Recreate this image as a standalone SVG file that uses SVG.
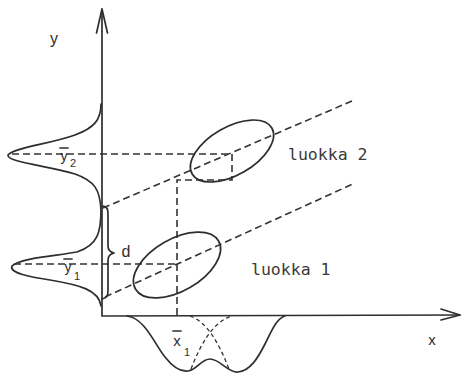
<svg xmlns="http://www.w3.org/2000/svg" width="462" height="378" viewBox="0 0 462 378">
<defs>
<style>
.ln{fill:none;stroke:#2e2e2e;stroke-width:1.7;stroke-linecap:round;stroke-linejoin:round}
.ds{fill:none;stroke:#333;stroke-width:1.6;stroke-dasharray:7 4}
.dsf{fill:none;stroke:#333;stroke-width:1.3;stroke-dasharray:4 3}
.lbl{font-family:"Liberation Sans","DejaVu Sans",sans-serif;fill:#2e2e2e}
.mono{font-family:"DejaVu Sans Mono","Liberation Mono",monospace;fill:#3a3a3a;font-size:16.5px}
</style>
</defs>
<rect width="462" height="378" fill="#fff"/>
<g id="axes">
<path class="ln" d="M102,9 L102,316 L460,315"/>
<path class="ln" d="M96.5,33 L102,9 L107.5,33"/>
<path class="ln" d="M441,309 L460,315 L441,320"/>
<text class="lbl" x="54" y="44" font-size="16" text-anchor="middle">y</text>
<text class="lbl" x="432" y="345" font-size="15" text-anchor="middle">x</text>
</g>
<g id="y-distribution">
<path class="ln" d="M101,104 C101,120 94,128 75,135 C50,144 12,148 8,155 C6,162 50,166 75,174 C95,181 100,190 101,210 C101,232 98,245 77,252 C55,256 20,258 12,266 C9,273 30,277 50,280 C80,285 99,290 101,306"/>
</g>
<g id="x-distribution">
<path class="ln" d="M127,316 C145,318 155,345 165,357 C172,366 180,372 188,371 C197,370 201,359 210,359 C220,359 228,373 238,372 C250,371 258,358 265,344 C272,330 277,318 285,316"/>
<path class="dsf" d="M191,369 C200,346 212,322 232,316"/>
<path class="dsf" d="M190,316 C208,322 220,346 229,369"/>
</g>
<g id="connectors">
<path class="ds" d="M103,208 L352,101"/>
<path class="ds" d="M105,297 L355,183"/>
<path class="ds" d="M12,154 L232,154 L232,180 L177,180 L177,316"/>
<path class="ds" d="M14,264 L177,264"/>
</g>
<g id="class2">
<ellipse class="ln" cx="232" cy="151" rx="46" ry="24" transform="rotate(-30 232 151)"/>
<text class="mono" x="288" y="160">luokka 2</text>
</g>
<g id="class1">
<ellipse class="ln" cx="177" cy="265" rx="48" ry="26" transform="rotate(-30 177 265)"/>
<text class="mono" x="251" y="275">luokka 1</text>
</g>
<g id="brace">
<path class="ln" d="M103,206 C108,207 108,210 108,216 L108,246 C108,250 110,252 114,253 C110,254 108,256 108,260 L108,290 C108,296 107,298 102,299"/>
<text class="lbl" x="126" y="257" font-size="16" text-anchor="middle">d</text>
</g>
<g id="labels">
<text class="lbl" x="64" y="161" font-size="14" text-anchor="middle">y</text>
<line class="ln" x1="60" y1="148" x2="68" y2="148" stroke-width="1.2"/>
<text class="lbl" x="73" y="167" font-size="11" text-anchor="middle">2</text>
<text class="lbl" x="68" y="272" font-size="14" text-anchor="middle">y</text>
<line class="ln" x1="64" y1="259" x2="72" y2="259" stroke-width="1.2"/>
<text class="lbl" x="77" y="280" font-size="11" text-anchor="middle">1</text>
<text class="lbl" x="177" y="346" font-size="15" text-anchor="middle">x</text>
<line class="ln" x1="173" y1="331" x2="181" y2="331" stroke-width="1.2"/>
<text class="lbl" x="187" y="356" font-size="11" text-anchor="middle">1</text>
</g>
</svg>
